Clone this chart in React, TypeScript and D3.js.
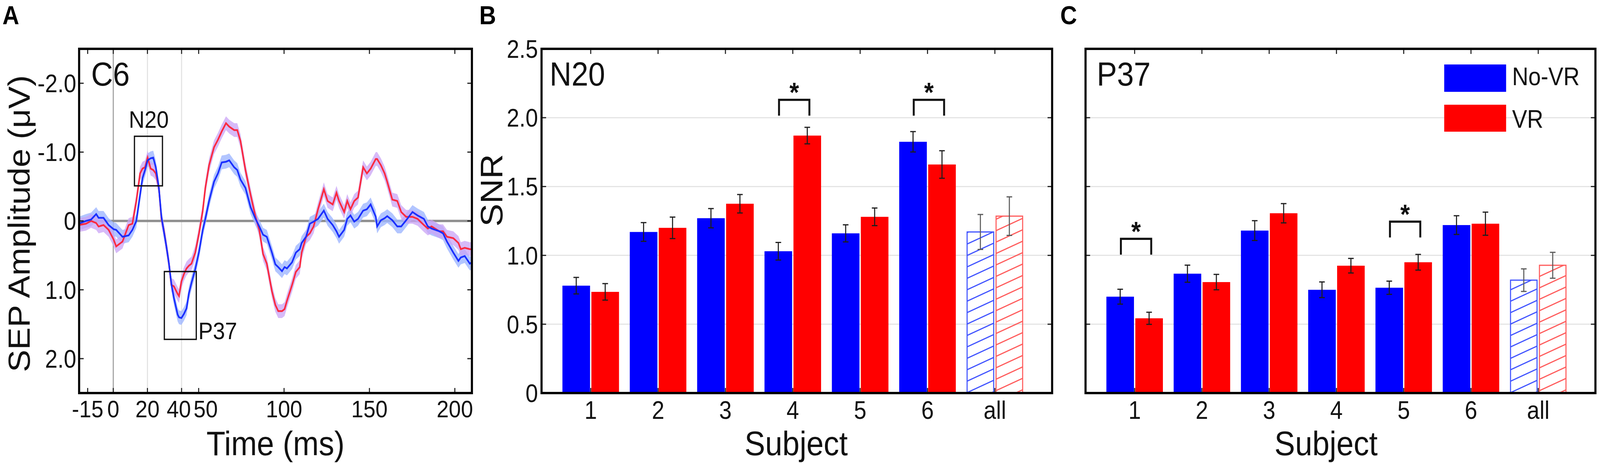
import React, { useLayoutEffect } from "react";
import * as d3 from "d3";

// ---- panel A: SEP traces at C6 ----
const timeMs = [
  -20.4, -16, -13, -10, -8.6, -5.7, -2.7, 0.2, 1.7, 5.4, 9, 11.2, 13.5, 15.7, 17.1, 18.6,
  20.1, 21.9, 23.4, 24.9, 26.7, 28.2, 29.6, 31.1, 32.6, 34, 35.5, 37.7, 38.5, 39.9, 41.4,
  42.9, 44.3, 45.8, 48, 50.2, 52.4, 53.9, 56.1, 59, 61.3, 63.5, 66, 67.9, 70.8, 72.6, 74.5,
  77.4, 80.4, 83.3, 85.5, 87.7, 89.9, 92.9, 94.9, 96.6, 98.8, 100.3, 101.7, 104.7, 106.9,
  109.2, 110.3, 112.9, 115.1, 117.3, 119.9, 123.3, 125.5, 128.5, 130.7, 132.2, 135.2, 137,
  138.9, 141.1, 143.3, 146.3, 148.5, 150.7, 153.7, 154.5, 156.7, 158.9, 160.4, 163.4, 166.3,
  168.6, 171.5, 175.2, 178.2, 181.9, 184.2, 186.4, 190.9, 193.1, 195.4, 199.1, 202.1, 203.5,
  205.8, 208.8, 210,
];
const noVrAmp = [
  0.04, 0.0, -0.02, -0.1, -0.045, -0.045, 0.06, 0.12, 0.13, 0.23, 0.21, 0.13, 0.0, -0.38,
  -0.62, -0.74, -0.88, -0.91, -0.92, -0.78, -0.48, -0.06, 0.15, 0.37, 0.62, 0.91, 1.12, 1.36,
  1.4, 1.41, 1.35, 1.27, 1.05, 0.9, 0.7, 0.45, 0.13, -0.03, -0.29, -0.57, -0.69, -0.85, -0.86,
  -0.88, -0.78, -0.74, -0.6, -0.48, -0.2, -0.03, 0.08, 0.2, 0.23, 0.46, 0.63, 0.67, 0.73,
  0.67, 0.69, 0.6, 0.46, 0.41, 0.32, 0.23, 0.04, 0.01, -0.03, -0.15, -0.03, 0.06, 0.15, 0.23,
  0.13, -0.03, -0.08, 0.01, -0.03, -0.15, -0.17, -0.24, -0.06, 0.08, -0.01, -0.04, -0.07,
  -0.01, 0.08, 0.08, -0.01, -0.13, -0.08, -0.03, 0.08, 0.11, 0.15, 0.18, 0.3, 0.46, 0.58,
  0.53, 0.51, 0.62, 0.6,
];
const vrAmp = [
  0.06, 0.04, 0.0, 0.03, 0.08, 0.06, 0.13, 0.27, 0.37, 0.3, 0.06, 0.04, -0.29, -0.69, -0.76,
  -0.78, -0.92, -0.76, -0.74, -0.69, -0.48, -0.03, 0.13, 0.37, 0.62, 0.93, 0.95, 1.06, 1.09,
  0.88, 0.77, 0.69, 0.65, 0.62, 0.46, 0.18, -0.15, -0.48, -0.81, -1.07, -1.18, -1.3, -1.42,
  -1.37, -1.32, -1.32, -1.16, -0.74, -0.38, -0.06, 0.13, 0.48, 0.62, 1.02, 1.22, 1.31, 1.31,
  1.28, 1.16, 0.93, 0.74, 0.67, 0.46, 0.23, 0.18, 0.08, -0.17, -0.46, -0.29, -0.24, -0.41,
  -0.29, -0.13, -0.29, -0.17, -0.29, -0.34, -0.78, -0.69, -0.76, -0.9, -0.9, -0.81, -0.69,
  -0.57, -0.31, -0.29, -0.13, -0.06, -0.06, -0.03, 0.06, 0.11, 0.08, 0.15, 0.15, 0.23, 0.25,
  0.32, 0.41, 0.39, 0.41, 0.41,
];
const semHalf = 0.1;
const ampTicks = [-2, -1, 0, 1, 2];
const ampTickLabels = ["-2.0", "-1.0", "0", "1.0", "2.0"];
const timeTicks = [-15, 0, 20, 40, 50, 100, 150, 200];
const n20Window = { t0: 12.4, t1: 28.8, v0: -1.23, v1: -0.51 };
const p37Window = { t0: 29.9, t1: 48.6, v0: 0.735, v1: 1.72 };

// ---- panels B and C: SNR per subject ----
const subjects = ["1", "2", "3", "4", "5", "6", "all"];
const n20NoVr = [0.78, 1.17, 1.27, 1.03, 1.16, 1.825, 1.17];
const n20Vr = [0.735, 1.2, 1.375, 1.87, 1.28, 1.66, 1.285];
const n20NoVrErr = [0.06, 0.068, 0.07, 0.064, 0.062, 0.074, 0.127];
const n20VrErr = [0.06, 0.078, 0.067, 0.06, 0.064, 0.1, 0.14];
const p37NoVr = [0.7, 0.867, 1.18, 0.75, 0.765, 1.22, 0.82];
const p37Vr = [0.543, 0.806, 1.306, 0.925, 0.95, 1.23, 0.928];
const p37NoVrErr = [0.054, 0.062, 0.072, 0.057, 0.048, 0.068, 0.082];
const p37VrErr = [0.044, 0.056, 0.07, 0.053, 0.057, 0.084, 0.094];
const n20Sig = [
  { subject: "4", level: 2.13 },
  { subject: "6", level: 2.13 },
];
const p37Sig = [
  { subject: "1", level: 1.12 },
  { subject: "5", level: 1.245 },
];
const snrTicks = [0, 0.5, 1, 1.5, 2, 2.5];
const snrTickLabels = ["0", "0.5", "1.0", "1.5", "2.0", "2.5"];

const FONT = "Liberation Sans, Arial, Helvetica, sans-serif";
const BLUE = "#0000ff";
const RED = "#ff0000";
const TOP = 125;
const BOTTOM = 1006;
const TICK = 13;

// the crowded 40/50 labels are pushed apart a little, as in the original
const timeLabelNudge: Record<number, number> = { 40: -8, 50: 20 };

const PanelA: React.FC = () => {
  const left = 225;
  const right = 1342;
  const x = d3.scaleLinear().domain([-20, 210]).range([left, right]);
  const y = d3.scaleLinear().domain([-2.5, 2.5]).range([TOP, BOTTOM]);
  const idx = d3.range(timeMs.length);

  const line = (vals: number[]) =>
    d3
      .line<number>()
      .x((i) => x(timeMs[i]))
      .y((i) => y(vals[i]))(idx) as string;
  const band = (vals: number[]) =>
    d3
      .area<number>()
      .x((i) => x(timeMs[i]))
      .y0((i) => y(vals[i] - semHalf))
      .y1((i) => y(vals[i] + semHalf))(idx) as string;

  return (
    <g>
      <defs>
        <clipPath id="clipA">
          <rect x={left} y={TOP} width={right - left} height={BOTTOM - TOP} />
        </clipPath>
      </defs>
      {/* reference lines */}
      {[20, 40].map((t) => (
        <line key={t} x1={x(t)} x2={x(t)} y1={TOP} y2={BOTTOM} stroke="#e2e2e2" strokeWidth={3} />
      ))}
      <line x1={x(0)} x2={x(0)} y1={TOP} y2={BOTTOM} stroke="#9c9c9c" strokeWidth={3} />
      <line x1={left} x2={right} y1={y(0)} y2={y(0)} stroke="#8e8e8e" strokeWidth={6} />

      <g clipPath="url(#clipA)">
        <path d={band(noVrAmp)} fill="#9fb6ff" opacity={0.8} />
        <path d={band(vrAmp)} fill="#c9a3f6" opacity={0.75} />
        <path d={line(vrAmp)} fill="none" stroke="#fb2a40" strokeWidth={4.5} />
        <path d={line(noVrAmp)} fill="none" stroke="#1a2fff" strokeWidth={4.5} />
      </g>

      {/* component windows */}
      {[n20Window, p37Window].map((w, i) => (
        <rect
          key={i}
          x={x(w.t0)}
          y={y(w.v0)}
          width={x(w.t1) - x(w.t0)}
          height={y(w.v1) - y(w.v0)}
          fill="none"
          stroke="#111"
          strokeWidth={3.5}
        />
      ))}
      <text x={(x(n20Window.t0) + x(n20Window.t1)) / 2 + 1} y={327} textAnchor="middle" fontSize={62} fontFamily={FONT} fill="#111">
        N20
      </text>
      <text x={x(p37Window.t1) + 6} y={868} fontSize={62} fontFamily={FONT} fill="#111">
        P37
      </text>
      <text x={259} y={219} fontSize={86} fontFamily={FONT} fill="#111">
        C6
      </text>

      {/* ticks */}
      {ampTicks.map((v) => (
        <g key={v}>
          <line x1={left} x2={left + TICK} y1={y(v)} y2={y(v)} stroke="#222" strokeWidth={3} />
          <line x1={right} x2={right - TICK} y1={y(v)} y2={y(v)} stroke="#222" strokeWidth={3} />
        </g>
      ))}
      {timeTicks.map((t) => (
        <g key={t}>
          <line x1={x(t)} x2={x(t)} y1={BOTTOM} y2={BOTTOM - TICK} stroke="#222" strokeWidth={3} />
          <line x1={x(t)} x2={x(t)} y1={TOP} y2={TOP + TICK} stroke="#222" strokeWidth={3} />
        </g>
      ))}
      <rect x={left} y={TOP} width={right - left} height={BOTTOM - TOP} fill="none" stroke="#000" strokeWidth={6} />

      {/* tick labels */}
      {ampTicks.map((v, i) => (
        <text key={v} x={217} y={y(v) + 23} textAnchor="end" fontSize={64} fontFamily={FONT} fill="#111">
          {ampTickLabels[i]}
        </text>
      ))}
      {timeTicks.map((t) => (
        <text
          key={t}
          x={x(t) + (timeLabelNudge[t] ?? 0)}
          y={1068}
          textAnchor="middle"
          fontSize={62}
          fontFamily={FONT}
          fill="#111"
        >
          {t}
        </text>
      ))}
      <text x={(left + right) / 2} y={1165} textAnchor="middle" fontSize={88} fontFamily={FONT} fill="#111">
        Time (ms)
      </text>
      <text
        transform={`translate(84, ${(TOP + BOTTOM) / 2 + 7}) rotate(-90)`}
        textAnchor="middle"
        fontSize={86}
        fontFamily={FONT}
        fill="#111"
      >
        SEP Amplitude (μV)
      </text>
    </g>
  );
};

interface BarPanelProps {
  id: string;
  left: number;
  right: number;
  name: string;
  nameX: number;
  noVr: number[];
  vr: number[];
  noVrErr: number[];
  vrErr: number[];
  sig: { subject: string; level: number }[];
  yLabels: boolean;
  legend: boolean;
  titleX: number;
}

const BarPanel: React.FC<BarPanelProps> = ({
  id,
  left,
  right,
  name,
  nameX,
  noVr,
  vr,
  noVrErr,
  vrErr,
  sig,
  yLabels,
  legend,
  titleX,
}) => {
  const x = d3.scaleLinear().domain([0.27, 7.85]).range([left, right]);
  const y = d3.scaleLinear().domain([0, 2.5]).range([BOTTOM, TOP]);
  const unit = x(1) - x(0);
  const barW = 0.41 * unit;
  const off = 0.215 * unit;
  const center = (s: string) => x(subjects.indexOf(s) + 1);

  const series = [
    { vals: noVr, errs: noVrErr, color: BLUE, hatch: "#3f52ff", dx: -off, key: "b" },
    { vals: vr, errs: vrErr, color: RED, hatch: "#ff5a5a", dx: off, key: "r" },
  ];

  return (
    <g>
      <defs>
        {series.map((s) => (
          <pattern
            key={s.key}
            id={`${id}-hatch-${s.key}`}
            patternUnits="userSpaceOnUse"
            width={20}
            height={27}
            patternTransform="rotate(-22.6)"
          >
            <line x1={-5} x2={25} y1={13.5} y2={13.5} stroke={s.hatch} strokeWidth={3} />
          </pattern>
        ))}
      </defs>
      {snrTicks.slice(1, -1).map((v) => (
        <line key={v} x1={left} x2={right} y1={y(v)} y2={y(v)} stroke="#e4e4e4" strokeWidth={3} />
      ))}

      {series.map((s) =>
        subjects.map((sub, i) => {
          const cx = center(sub) + s.dx;
          const isAll = sub === "all";
          return (
            <g key={s.key + sub}>
              <rect
                x={cx - barW / 2 + (isAll ? 1.5 : 0)}
                y={y(s.vals[i])}
                width={barW - (isAll ? 3 : 0)}
                height={y(0) - y(s.vals[i])}
                fill={isAll ? `url(#${id}-hatch-${s.key})` : s.color}
                stroke={isAll ? s.hatch : "none"}
                strokeWidth={3}
              />
              <g stroke={isAll ? "#5a5a5a" : "#1e1e1e"} strokeWidth={3}>
                <line x1={cx} x2={cx} y1={y(s.vals[i] - s.errs[i])} y2={y(s.vals[i] + s.errs[i])} />
                <line x1={cx - 8} x2={cx + 8} y1={y(s.vals[i] - s.errs[i])} y2={y(s.vals[i] - s.errs[i])} />
                <line x1={cx - 8} x2={cx + 8} y1={y(s.vals[i] + s.errs[i])} y2={y(s.vals[i] + s.errs[i])} />
              </g>
            </g>
          );
        })
      )}

      {/* significance brackets */}
      {sig.map((s) => {
        const c = center(s.subject);
        const x0 = c - off + 2;
        const x1 = c + off + 6;
        const top = y(s.level);
        const foot = y(s.level - 0.115);
        return (
          <g key={s.subject}>
            <path d={`M${x0},${foot}V${top}H${x1}V${foot}`} fill="none" stroke="#111" strokeWidth={5.5} />
            <text x={(x0 + x1) / 2} y={top + 6} textAnchor="middle" fontSize={70} fontWeight="bold" fontFamily={FONT} fill="#111">
              *
            </text>
          </g>
        );
      })}

      <text x={nameX} y={219} fontSize={86} fontFamily={FONT} fill="#111">
        {name}
      </text>

      {legend && (
        <g>
          <rect x={4107} y={165} width={176} height={70} fill={BLUE} />
          <rect x={4107} y={268} width={176} height={69} fill={RED} />
          <text x={4300} y={218} fontSize={64} fontFamily={FONT} fill="#111">
            No-VR
          </text>
          <text x={4300} y={327} fontSize={64} fontFamily={FONT} fill="#111">
            VR
          </text>
        </g>
      )}

      {/* ticks and frame */}
      {snrTicks.map((v) => (
        <g key={v}>
          <line x1={left} x2={left + TICK} y1={y(v)} y2={y(v)} stroke="#222" strokeWidth={3} />
          <line x1={right} x2={right - TICK} y1={y(v)} y2={y(v)} stroke="#222" strokeWidth={3} />
        </g>
      ))}
      {subjects.map((s) => (
        <g key={s}>
          <line x1={center(s)} x2={center(s)} y1={BOTTOM} y2={BOTTOM - TICK} stroke="#222" strokeWidth={3} />
          <line x1={center(s)} x2={center(s)} y1={TOP} y2={TOP + TICK} stroke="#222" strokeWidth={3} />
        </g>
      ))}
      <rect x={left} y={TOP} width={right - left} height={BOTTOM - TOP} fill="none" stroke="#000" strokeWidth={6} />

      {subjects.map((s) => (
        <text key={s} x={center(s)} y={1072} textAnchor="middle" fontSize={64} fontFamily={FONT} fill="#111">
          {s}
        </text>
      ))}
      {yLabels &&
        snrTicks.map((v, i) => (
          <text key={v} x={left - 10} y={y(v) + 23} textAnchor="end" fontSize={64} fontFamily={FONT} fill="#111">
            {snrTickLabels[i]}
          </text>
        ))}
      {yLabels && (
        <text transform={`translate(1428, 487) rotate(-90)`} textAnchor="middle" fontSize={88} fontFamily={FONT} fill="#111">
          SNR
        </text>
      )}
      <text x={titleX} y={1165} textAnchor="middle" fontSize={88} fontFamily={FONT} fill="#111">
        Subject
      </text>
    </g>
  );
};

const App: React.FC = () => {
  useLayoutEffect(() => {
    document.body.style.margin = "0";
    document.body.style.overflow = "hidden";
  }, []);

  return (
    <svg
      viewBox="0 0 4550 1185"
      preserveAspectRatio="none"
      style={{ position: "fixed", left: 0, top: 0, width: "100vw", height: "100vh", background: "#fff", display: "block" }}
    >
      <rect width={4550} height={1185} fill="#fff" />
      <PanelA />
      <BarPanel
        id="n20"
        left={1540}
        right={2992}
        name="N20"
        nameX={1563}
        noVr={n20NoVr}
        vr={n20Vr}
        noVrErr={n20NoVrErr}
        vrErr={n20VrErr}
        sig={n20Sig}
        yLabels={true}
        legend={false}
        titleX={2264}
      />
      <BarPanel
        id="p37"
        left={3087}
        right={4537}
        name="P37"
        nameX={3119}
        noVr={p37NoVr}
        vr={p37Vr}
        noVrErr={p37NoVrErr}
        vrErr={p37VrErr}
        sig={p37Sig}
        yLabels={false}
        legend={true}
        titleX={3771}
      />
      {[
        { t: "A", x: 7 },
        { t: "B", x: 1363 },
        { t: "C", x: 3015 },
      ].map((p) => (
        <text key={p.t} x={p.x} y={62} fontSize={66} fontWeight="bold" fontFamily={FONT} fill="#000">
          {p.t}
        </text>
      ))}
    </svg>
  );
};

export default App;
